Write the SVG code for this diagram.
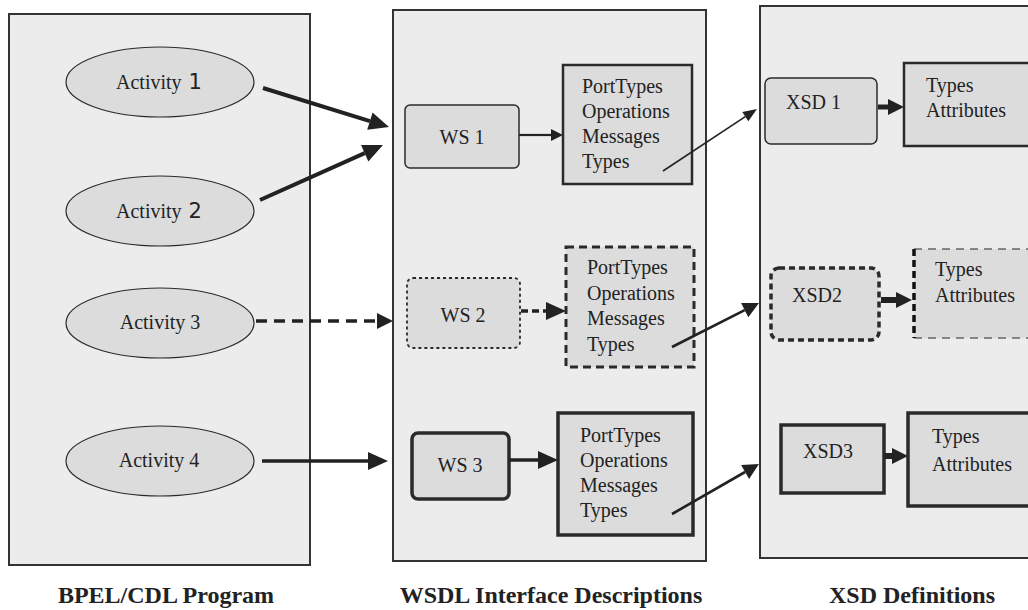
<svg xmlns="http://www.w3.org/2000/svg" width="1028" height="610" viewBox="0 0 1028 610">
  <defs>
    <style>
      .panel { fill: #ececec; stroke: #333; stroke-width: 2; }
      .node { fill: #dcdcdc; stroke: #2a2a2a; }
      .t { font-family: "Liberation Serif", "Times New Roman", serif; font-size: 20px; fill: #222; }
      .num { font-family: "DejaVu Sans", "Liberation Sans", sans-serif; font-size: 21px; fill: #222; }
      .cap { font-family: "Liberation Serif", "Times New Roman", serif; font-size: 24px; font-weight: bold; fill: #222; text-anchor: middle; }
      .edge { fill: none; stroke: #222; stroke-linecap: butt; }
    </style>
    <!-- arrowheads are anchored at their base; each line ends where the head begins -->
    <marker id="bigHead" viewBox="0 0 20 18" refX="0" refY="9" markerWidth="20" markerHeight="18" markerUnits="userSpaceOnUse" orient="auto" overflow="visible">
      <path d="M0,0 L20,9 L0,18 Z" fill="#222"/>
    </marker>
    <marker id="midHead" viewBox="0 0 16 16" refX="0" refY="8" markerWidth="16" markerHeight="16" markerUnits="userSpaceOnUse" orient="auto" overflow="visible">
      <path d="M0,0 L16,8 L0,16 Z" fill="#222"/>
    </marker>
    <marker id="smallHead" viewBox="0 0 12 12" refX="0" refY="6" markerWidth="12" markerHeight="12" markerUnits="userSpaceOnUse" orient="auto" overflow="visible">
      <path d="M0,0 L12,6 L0,12 Z" fill="#222"/>
    </marker>
    <marker id="thinHead" viewBox="0 0 14 11" refX="0" refY="5.5" markerWidth="14" markerHeight="11" markerUnits="userSpaceOnUse" orient="auto" overflow="visible">
      <path d="M0,0 L14,5.5 L0,11 Z" fill="#222"/>
    </marker>
  </defs>

  <!-- containers -->
  <g id="panel-bpel">
    <rect class="panel" x="9" y="14" width="301" height="551"/>
    <text class="cap" x="166" y="603">BPEL/CDL Program</text>
  </g>
  <g id="panel-wsdl">
    <rect class="panel" x="393" y="10" width="313" height="551"/>
    <text class="cap" x="551" y="603">WSDL Interface Descriptions</text>
  </g>
  <g id="panel-xsd">
    <rect class="panel" x="760" y="6" width="280" height="552"/>
    <text class="cap" x="912" y="603">XSD Definitions</text>
  </g>

  <!-- activities -->
  <g id="activity1">
    <ellipse class="node" cx="160" cy="82" rx="94" ry="35" stroke-width="1.2"/>
    <text class="t" x="116" y="89">Activity <tspan class="num" dx="2">1</tspan></text>
  </g>
  <g id="activity2">
    <ellipse class="node" cx="160" cy="211" rx="94" ry="35" stroke-width="1.2"/>
    <text class="t" x="116" y="218">Activity <tspan class="num" dx="2">2</tspan></text>
  </g>
  <g id="activity3">
    <ellipse class="node" cx="160" cy="323" rx="94" ry="35" stroke-width="1.2"/>
    <text class="t" x="160" y="329" text-anchor="middle">Activity 3</text>
  </g>
  <g id="activity4">
    <ellipse class="node" cx="160" cy="461" rx="94" ry="35" stroke-width="1.2"/>
    <text class="t" x="159" y="467" text-anchor="middle">Activity 4</text>
  </g>

  <!-- web services -->
  <g id="ws1">
    <rect class="node" x="405" y="105" width="114" height="63" rx="5" stroke-width="1.5"/>
    <text class="t" x="462" y="144" text-anchor="middle">WS 1</text>
  </g>
  <g id="ws2">
    <rect class="node" x="407" y="278" width="113" height="70" rx="6" stroke-width="1.8" stroke-dasharray="3 3"/>
    <text class="t" x="463" y="322" text-anchor="middle">WS 2</text>
  </g>
  <g id="ws3">
    <rect class="node" x="412" y="433" width="97" height="66" rx="6" stroke-width="3.5"/>
    <text class="t" x="460" y="472" text-anchor="middle">WS 3</text>
  </g>

  <!-- WSDL parts -->
  <g id="wsdl1">
    <rect class="node" x="563" y="65" width="129" height="119" stroke-width="2.5"/>
    <text class="t" x="582" y="93">PortTypes</text>
    <text class="t" x="582" y="118">Operations</text>
    <text class="t" x="582" y="143">Messages</text>
    <text class="t" x="582" y="168">Types</text>
  </g>
  <g id="wsdl2">
    <rect class="node" x="566" y="247" width="128" height="120" stroke-width="3" stroke-dasharray="8 5"/>
    <text class="t" x="587" y="274">PortTypes</text>
    <text class="t" x="587" y="300">Operations</text>
    <text class="t" x="587" y="325">Messages</text>
    <text class="t" x="587" y="351">Types</text>
  </g>
  <g id="wsdl3">
    <rect class="node" x="558" y="413" width="135" height="122" stroke-width="3.5"/>
    <text class="t" x="580" y="442">PortTypes</text>
    <text class="t" x="580" y="467">Operations</text>
    <text class="t" x="580" y="492">Messages</text>
    <text class="t" x="580" y="517">Types</text>
  </g>

  <!-- XSD schemas -->
  <g id="xsd1">
    <rect class="node" x="765" y="78" width="112" height="66" rx="6" stroke-width="1.5"/>
    <text class="t" x="786" y="109">XSD 1</text>
  </g>
  <g id="xsd2">
    <rect class="node" x="771" y="268" width="108" height="72" rx="8" stroke-width="3.5" stroke-dasharray="6 4"/>
    <text class="t" x="792" y="302">XSD2</text>
  </g>
  <g id="xsd3">
    <rect class="node" x="781" y="425" width="103" height="68" stroke-width="3.5"/>
    <text class="t" x="803" y="458">XSD3</text>
  </g>

  <!-- XSD contents -->
  <g id="types1">
    <rect class="node" x="904" y="63" width="140" height="83" stroke-width="2.5"/>
    <text class="t" x="926" y="92">Types</text>
    <text class="t" x="926" y="117">Attributes</text>
  </g>
  <g id="types2">
    <rect x="914" y="249" width="130" height="89" fill="#dcdcdc"/>
    <path d="M914,249 H1044 M914,338 H1044" fill="none" stroke="#666" stroke-width="1.5" stroke-dasharray="8 6"/>
    <path d="M914,249 V338" fill="none" stroke="#111" stroke-width="3.5" stroke-dasharray="7 4"/>
    <text class="t" x="935" y="276">Types</text>
    <text class="t" x="935" y="302">Attributes</text>
  </g>
  <g id="types3">
    <rect class="node" x="908" y="413" width="140" height="93" stroke-width="3.5"/>
    <text class="t" x="932" y="443">Types</text>
    <text class="t" x="932" y="471">Attributes</text>
  </g>

  <!-- connectors -->
  <g id="connectors">
    <line class="edge" x1="263" y1="88" x2="369.9" y2="121.1" stroke-width="4" marker-end="url(#bigHead)"/>
    <line class="edge" x1="260" y1="200" x2="364.7" y2="153.2" stroke-width="4" marker-end="url(#bigHead)"/>
    <line class="edge" x1="256" y1="321" x2="377" y2="321" stroke-width="3.5" stroke-dasharray="11 7" marker-end="url(#midHead)"/>
    <line class="edge" x1="262" y1="461" x2="368" y2="461" stroke-width="3.5" marker-end="url(#bigHead)"/>

    <line class="edge" x1="519" y1="135" x2="551" y2="135" stroke-width="2.2" marker-end="url(#smallHead)"/>
    <line class="edge" x1="521" y1="311" x2="546" y2="311" stroke-width="3.5" stroke-dasharray="7 4" marker-end="url(#bigHead)"/>
    <line class="edge" x1="509" y1="460" x2="538" y2="460" stroke-width="3.5" marker-end="url(#bigHead)"/>

    <line class="edge" x1="663" y1="171" x2="745.3" y2="116.7" stroke-width="1.6" marker-end="url(#thinHead)"/>
    <line class="edge" x1="672" y1="347" x2="744.7" y2="310.2" stroke-width="2.6" marker-end="url(#midHead)"/>
    <line class="edge" x1="672" y1="514" x2="745.1" y2="472" stroke-width="2.6" marker-end="url(#midHead)"/>

    <line class="edge" x1="878" y1="107" x2="888" y2="107" stroke-width="5" marker-end="url(#midHead)"/>
    <line class="edge" x1="881" y1="300" x2="896" y2="300" stroke-width="6" marker-end="url(#midHead)"/>
    <line class="edge" x1="885" y1="456" x2="892" y2="456" stroke-width="6" marker-end="url(#midHead)"/>
  </g>
</svg>
